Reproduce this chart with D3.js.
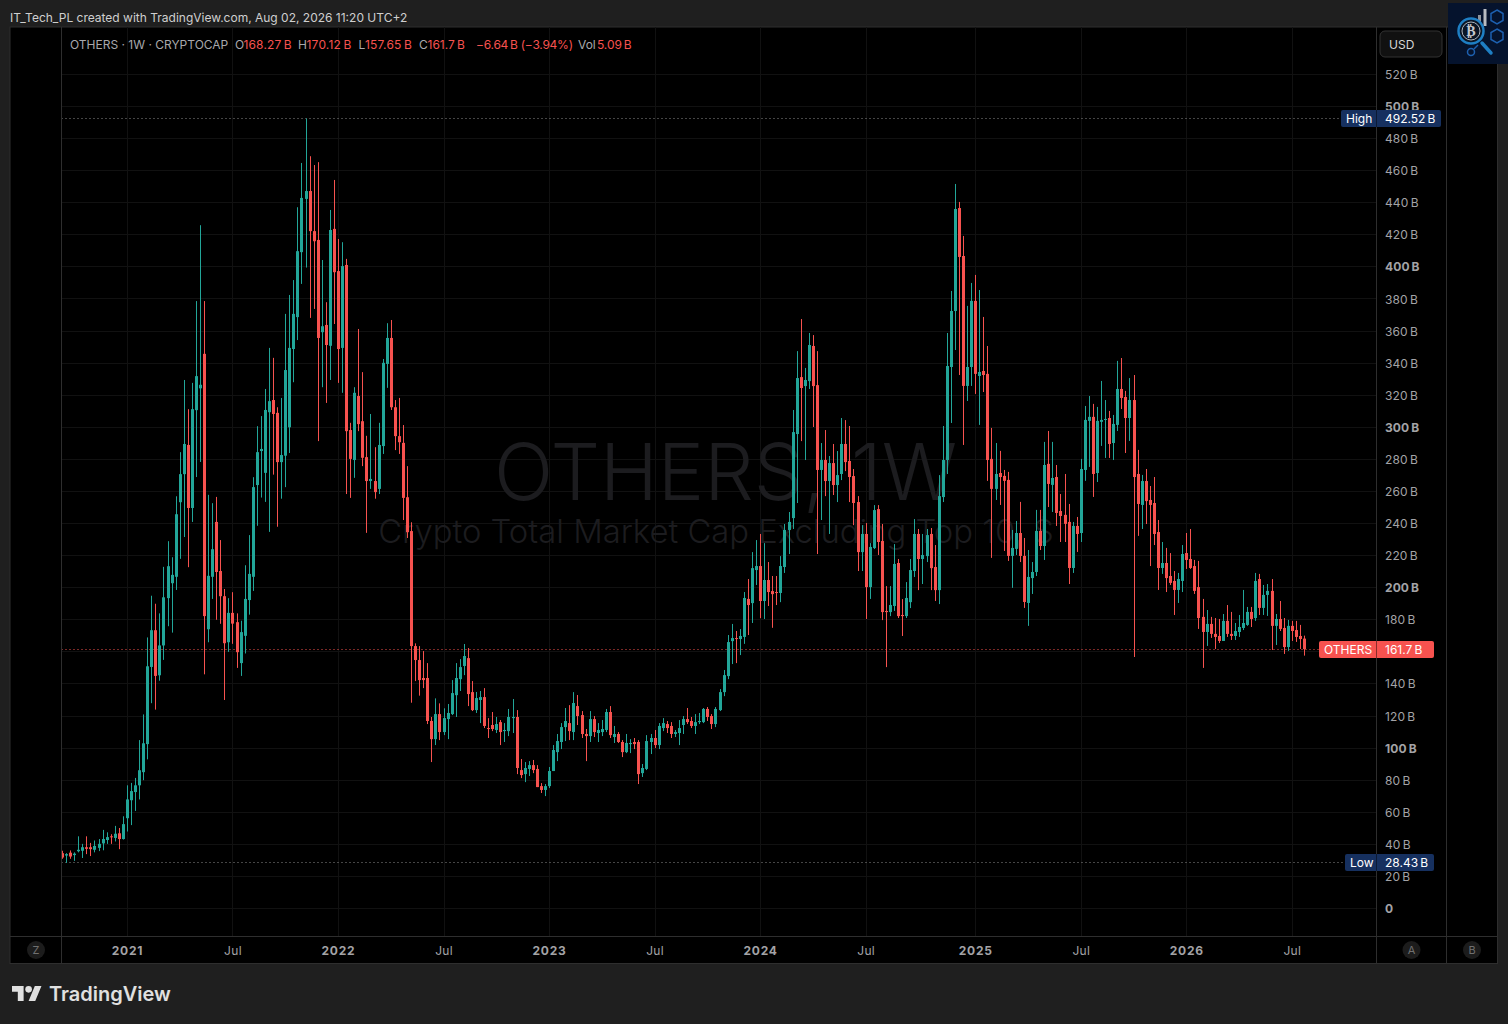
<!DOCTYPE html>
<html>
<head>
<meta charset="utf-8">
<script src="https://d3js.org/d3.v7.min.js"></script>
<style>
    html, body { margin: 0; padding: 0; background: #1f1f1f; }
    svg { display: block; }
    text { font-family: Inter, "Noto Sans", sans-serif; }
    .price-axis text { fill: #a3a3a6; font-size: 12px; letter-spacing: 0.1px; }
    .price-axis text.major { font-weight: 700; }
    .time-axis text { fill: #a3a3a6; font-size: 12px; letter-spacing: 0.3px; }
    .time-axis text.major { font-weight: 700; letter-spacing: 0.8px; }
</style>
</head>
<body>
<div id="chart"></div>
<script>
// weekly candles, values in billions, first candle is the week of 2020-09-14
const opens = [
    34.5,33,34.8,33.3,35.7,36,38.2,38.2,36.6,37.8,
    40.6,42.7,45,44,46.9,43.3,56.3,67.5,72.6,76.8,
    85,102.5,150.6,173.5,145.4,164,193.5,202.8,206.8,253.3,
    270.8,289,249.7,310.7,324.3,345.8,174.1,206.8,241,210.4,
    194.7,166,184.3,178.5,153,170,192.3,206.8,264,285.2,
    271.6,309.4,317,309,278.3,282.3,300,348.8,368.7,409.2,
    442.4,447.3,422.3,416.8,359.3,363.8,350.8,423.7,397.4,349.5,
    401.2,298.3,279.6,319.5,303.8,281.4,266.5,266.5,261.6,288.3,
    339.5,355.7,312.5,294.5,290.3,256.4,235.3,163.6,154.9,143.7,
    143.7,116.9,105.6,121.2,110,118.1,121.2,133,143,151.2,
    156.1,134.9,123.7,130,131.8,112.5,114.4,111.3,116.2,110.6,
    110.6,118.7,119.4,86.3,83.8,87,89.4,87,76.3,73.9,
    76.3,85.7,97.5,103.8,113.1,115.6,110,126.2,120.6,108.8,
    107.5,118.1,109.4,110,111.3,122.5,106.9,108.8,103.8,97.5,
    102.5,103.8,103.8,84.4,87,103.8,106.3,101.9,112.5,115,
    113.8,108.8,109.4,114.4,118.1,116.9,113.8,116.2,116.2,124.4,
    120,115,123.7,134.9,144.9,166.7,168.6,168,169.3,193,
    190.4,211,213.5,191.7,204.8,197.9,197.3,196.7,212.9,236,
    243.4,295.8,331.3,325.7,328.8,350.7,326.3,273.4,279.6,266.5,
    277.7,264,270.9,289.6,279,269.6,253.4,222.2,233.5,200.4,
    224.7,249,229.1,185.5,184.8,188.6,215.4,183,182.3,191,
    210.4,233.5,217.9,219.7,233.5,212.9,198.5,256.5,279.6,337.6,
    372.5,436.7,406.8,325.8,337.6,378.8,332,335.1,333.3,280.3,
    261.6,271.5,269.7,267.2,219.8,224.2,234.1,219.8,190.5,206,
    209.8,235.4,226,277.2,264.1,269,247.8,245.4,241,212.3,
    238.5,234.1,273.4,304,306.5,271.5,303.4,304.6,305.8,290.2,
    301.5,323.9,318.9,305.8,317,270.9,251.6,266.5,254.7,252.8,
    234.7,212.3,215.4,207.3,204.2,198.6,204.2,221.6,217.9,213.5,
    200.4,181.8,172.4,177.4,171.2,169.9,166.8,179.3,171.2,169.9,
    172.4,174.9,176.8,184.9,181.1,205.4,187.4,195.5,198,176.2,
    180.5,174.9,163,176.2,173.6,169.9,168.27
];
const highs = [
    36,34.5,36.2,35,45,40.3,45,40.9,42.4,43.3,
    49,47.5,46.3,51.5,50.2,57.5,76.8,78.3,81.4,105,
    121,169,195,190,184,213,229,219,257,284.5,
    329.5,311.3,327.7,378.7,426,378.7,257.9,252.7,256.6,229.7,
    199.2,193.5,197.2,184,179.4,214,232.8,268.9,300.7,307,
    323.9,349.5,343.3,312.5,318.3,370.7,382.5,391.8,437.2,464.8,
    492.52,469,463.5,465.3,404.3,378,435.5,454.2,417.4,415.4,
    405,302.8,325,361.3,334.4,294.7,308.3,287.6,302.8,342.6,
    364.9,366.9,317,318.3,301.4,275.8,240.8,165.3,163.6,160.5,
    153,119.4,131,127.9,124.8,127.5,142.4,153,155.5,164.9,
    162.4,141.8,135,135.6,137.4,118.7,122.5,119.4,117.5,115.6,
    124.4,130.6,123.7,93.2,91.3,91.9,92.6,89.4,78.2,77.6,
    88.2,101.9,108.8,115.6,125,126.8,134.9,133.1,123.1,111.9,
    123.1,120,115.6,117.5,124.4,126.2,113.8,110,105,108.8,
    105.6,106.3,105,90.1,108.1,108.8,111.3,115.6,118.7,116.9,
    116.2,111.3,117.5,120,125,119.4,121.2,121.9,125,125.6,
    121.2,125.6,136.8,148.7,170.5,177.4,173,174.2,197.3,205.4,
    222.2,229.7,233.5,227.8,216,207.3,207.3,219.7,239.7,247.2,
    310.8,347.5,367.5,337,358.8,357.5,347.5,290.2,298.3,282.1,
    289.6,285.2,305.8,304.5,300.8,274,257.1,239,240.3,227.8,
    251.5,251.5,239.7,201,201,227.2,217.9,192.9,203.5,217.9,
    242.8,236.6,233.5,236.6,237.2,226.6,270.2,300.8,358.8,385,
    451.7,440.5,419.3,375.7,390,395,385.6,368.8,350.7,299.6,
    290.2,285.3,273.4,272.2,236,241.6,253.5,231,223.5,216,
    248.5,248.5,290.9,297.7,290.9,276.5,258.4,270.9,252.2,241,
    244.1,280.3,313.3,319.5,314.6,312.7,328.9,317,310.2,307.7,
    341.4,343.2,322.7,330.7,332.6,285.9,270.3,274,263.4,269,
    242.2,228.5,224.8,221.6,210.4,209.2,226.6,234.1,236.6,217.3,
    216.7,193,186.1,181.8,181.1,180.5,183.6,189.2,184.9,178,
    183,198.6,188,188,209.2,208.6,201.7,202.3,205.4,183.6,
    191.7,181.1,179.9,179.3,179.3,176.8,170.12
];
const lows = [
    31,28.43,31,29.7,35,31.5,33.9,32.7,35,35.8,
    36.3,40.3,40.3,41.8,37,43,48,52,60.8,68,
    80,93,128,124,142,155,176,172,198.6,218,
    231.6,212.8,241,269,278.4,146,166,193,180,177.5,
    130,160,165,150,145,159,183.2,198,238.6,256.2,
    253.5,234.8,270.5,238,255.5,262.7,284,328.1,354.4,389.4,
    399.6,368.2,373.8,291.4,325,315.2,329.5,364.4,327.7,321.5,
    258.4,256,268.5,297.6,275.8,234.2,261.6,255.5,258.4,283.4,
    324.6,310.8,285.8,283.4,242.2,231,128.3,141.8,132.7,137.4,
    115,91.3,101.9,105,108.1,105.6,120.6,119.4,135.6,145.5,
    126.2,123.1,121.9,115.6,112.5,106.3,110.6,109.4,101.9,103.8,
    107.5,109.4,83.8,81.3,78.8,82.6,84.4,75.7,72,70.1,
    75.1,85.7,91.9,99.4,104.4,105,105,114.4,106.3,91.9,
    103.8,106.9,103.8,107.5,110,106.3,103.2,103.2,94.4,96.9,
    96.9,99.4,77.6,82,86.3,96.3,100,99.4,110.6,109.4,
    106.3,106.9,101.9,108.8,115,112.5,108.8,115,115.6,116.9,
    111.9,113.1,123.1,132.4,143,152.4,153,158,165,170.5,
    178,201.7,181,180.5,188.6,175,189.2,191,209.2,221,
    236.6,252.8,291.4,279.6,323.9,300.2,221,242.2,257.1,233.5,
    257.8,253.4,267.1,272.7,253.4,239,210.4,210.4,180.5,193,
    224.1,220.4,179.8,150.5,182.3,185.5,181.1,169.9,181.1,187.3,
    206.7,198.5,202.3,216,198.5,191.7,189.8,253.4,270.9,302.7,
    348.2,332.6,289,316.4,325.8,320.8,301.5,322,266.6,218.6,
    254.7,251.6,222.9,216.7,199.9,220.4,216,187.4,176.2,196.1,
    207.3,223.5,217.3,250.3,247.2,238.5,228.5,228.5,202.3,209.2,
    222.3,228.5,266.6,275.3,256.6,265.9,288.4,280.9,280.9,279.6,
    297.7,311.4,284,291.5,156.8,232.3,236.6,239.7,213.5,226.6,
    198.6,208.6,197.3,201.7,183,190.5,197.3,211.7,211.7,196.1,
    174.3,150,163.7,168.7,161.8,165.5,166.8,169.3,167.4,167.4,
    169.3,173.6,176.2,175.5,179.3,183,183,182.4,161.2,164.3,
    173,158.7,160.6,166.8,166.2,161.8,157.65
];
const closes = [
    31.8,33.9,32.4,34.2,36.6,38.2,37.2,37,39,40.3,
    43.3,44.5,44.5,46.6,43.3,52.6,68,73.2,76.8,86.2,
    103,151,173.5,145,164,194,213.4,208,245.8,270.8,
    289.6,249.7,311.3,331.9,326.5,182.3,207.4,224,209.8,194.7,
    165.4,184.3,177.6,159.8,172.3,193,208.6,262.7,284.5,286.5,
    310.8,316.3,308.3,278.3,282.7,335.7,349.5,370.7,409.8,443,
    447.3,422.3,416,355.7,363,351.3,423,396.7,348.8,400.5,
    297.6,280.3,321.5,302,281,266.5,267.8,259.6,289,340.2,
    355.7,312.5,294.5,290.7,256,234.6,163.6,154.9,142.4,142.4,
    116.9,105.6,121.2,110,118.7,121.9,134.3,143.7,150.5,157.4,
    133.7,123.7,131.2,131.8,113.8,111.9,111.9,115,110,111.3,
    119.4,119.4,87.6,83.2,87.6,89.4,86.3,75.7,73.9,76.3,
    85.7,98.8,104.4,113.1,116.9,110.6,128.1,120,108.8,107.5,
    118.1,110,111.3,111.9,122.5,108.1,108.8,103.8,97.5,103.2,
    103.2,102.5,83.8,87.6,104.4,106.3,101.9,113.8,115.6,112.5,
    108.8,110,112.5,118.1,116.2,113.8,116.2,116.9,124.4,119.4,
    115,124.4,134.9,145.5,166.1,168.6,168,169.9,193.6,189.2,
    212.2,213.5,191.7,204.8,197.3,196,196.7,213.5,236,241,
    297,330.7,324.5,329.5,351.3,325.7,273.4,279.6,266.5,277.7,
    264,270.2,289.6,278.3,269,252.8,222.2,233.5,200.4,225.4,
    248.4,228.5,184.8,184.8,189.2,214.8,182.3,182.3,193.6,211,
    233.5,217.9,220.4,232.8,212.2,198.5,257.1,279.6,338.2,372.5,
    436.1,406.2,325.8,337.6,378.8,333.3,334.5,332.6,279.6,261.6,
    270.9,269,266.6,219.8,224.8,234.1,219.8,191.1,206.7,209.8,
    235.4,226,276.5,264.7,268.4,246.6,244.7,239.8,212.3,238.5,
    233.5,274,304.6,306.5,270.9,304,304.6,305.2,289.6,302.1,
    323.9,318.3,305.8,317,269,252.2,266.5,254,251.6,233.5,
    212.3,215.4,206,203,198.6,205.4,221,217.3,212.3,198,
    181.1,172.4,177.4,171.2,169.3,166.8,179.3,171.2,169.9,173,
    175.5,178,184.9,180.5,204.2,187.4,195.5,198,176.2,180.5,
    174.3,163,176.2,173,169.3,168,161.7
];

const priceTicks = [0,20,40,60,80,100,120,140,160,180,200,220,240,260,280,300,320,340,360,380,400,420,440,460,480,500,520];
const hiddenPriceTicks = [160]; // covered by the last price label
const timeTickDates = ["2021-01-04","2021-07-05","2022-01-03","2022-07-04","2023-01-02","2023-07-03","2024-01-01","2024-07-01","2025-01-06","2025-07-07","2026-01-05","2026-07-06"];
const timeTickLabels = ["2021","Jul","2022","Jul","2023","Jul","2024","Jul","2025","Jul","2026","Jul"];

const highValue = 492.52;
const lowValue = 28.43;
const lastValue = 161.7;

const green = "#22a699";
const red = "#f7524f";
const gridColor = "#111111";
const lineColor = "#2e2e2e";

const width = 1508;
const height = 1024;
const frame = { left: 10, top: 27, right: 1497.5, bottom: 963.5 };
const plot = { left: 61.5, right: 1376.5, bottom: 936.5 };
const secondAxis = 1446.5;

const svg = d3.select("#chart").append("svg")
    .attr("width", width)
    .attr("height", height);

svg.append("rect").attr("width", width).attr("height", height).attr("fill", "#1f1f1f");

svg.append("text")
    .attr("x", 10).attr("y", 21.5)
    .attr("fill", "#cfcfcf")
    .style("font-size", "12px")
    .text("IT_Tech_PL created with TradingView.com, Aug 02, 2026 11:20 UTC+2");

svg.append("rect")
    .attr("x", frame.left).attr("y", frame.top)
    .attr("width", frame.right - frame.left).attr("height", frame.bottom - frame.top)
    .attr("fill", "#000").attr("stroke", lineColor);

// scales
const parseDay = d3.utcParse("%Y-%m-%d");
const weeks = d3.utcMonday.range(parseDay("2020-09-14"), parseDay("2026-08-03"));
const timeTicks = timeTickDates.map(parseDay);

const x = d3.scaleUtc()
    .domain([weeks[0], weeks[weeks.length - 1]])
    .range([62.5, 1304.5]);

const y = d3.scaleLinear()
    .domain([0, 520])
    .range([908.5, 74.42]);

// grid
svg.append("g").selectAll("line")
    .data(priceTicks)
    .enter()
    .append("line")
    .attr("x1", plot.left).attr("x2", plot.right)
    .attr("y1", d => Math.floor(y(d)) + 0.5).attr("y2", d => Math.floor(y(d)) + 0.5)
    .attr("stroke", gridColor);

svg.append("g").selectAll("line")
    .data(timeTicks)
    .enter()
    .append("line")
    .attr("x1", d => Math.floor(x(d)) + 0.5).attr("x2", d => Math.floor(x(d)) + 0.5)
    .attr("y1", frame.top).attr("y2", plot.bottom)
    .attr("stroke", gridColor);

// watermark
svg.append("text")
    .attr("x", 494).attr("y", 500)
    .attr("fill", "#1c1c1f")
    .style("font-size", "78px")
    .style("font-weight", 300)
    .style("word-spacing", "4px")
    .text("OTHERS, 1W");

svg.append("text")
    .attr("x", 716).attr("y", 543)
    .attr("text-anchor", "middle")
    .attr("fill", "#1c1c1f")
    .style("font-size", "32.8px")
    .style("font-weight", 300)
    .text("Crypto Total Market Cap Excluding Top 10, $");

// dotted level lines
const levels = [
    { value: highValue, end: 1341, color: "#8a8a8a" },
    { value: lowValue, end: 1345, color: "#8a8a8a" },
    { value: lastValue, end: 1319, color: red }
];
svg.append("g").selectAll("line")
    .data(levels)
    .enter()
    .append("line")
    .attr("x1", plot.left).attr("x2", d => d.end)
    .attr("y1", d => Math.floor(y(d.value)) + 0.5).attr("y2", d => Math.floor(y(d.value)) + 0.5)
    .attr("stroke", d => d.color)
    .attr("stroke-dasharray", "1 3");

// candles
const candle = svg.append("g").selectAll("g")
    .data(weeks)
    .enter()
    .append("g")
    .attr("fill", (d, i) => closes[i] >= opens[i] ? green : red);

candle.append("rect")
    .attr("x", d => Math.round(x(d) - 0.5))
    .attr("width", 1)
    .attr("y", (d, i) => y(highs[i]))
    .attr("height", (d, i) => y(lows[i]) - y(highs[i]));

candle.append("rect")
    .attr("x", d => Math.round(x(d) - 0.5) - 1)
    .attr("width", 3)
    .attr("y", (d, i) => y(Math.max(opens[i], closes[i])))
    .attr("height", (d, i) => Math.max(1, Math.abs(y(opens[i]) - y(closes[i]))));

// axis panels
svg.append("g").selectAll("line")
    .data([plot.left, plot.right, secondAxis])
    .enter()
    .append("line")
    .attr("x1", d => d).attr("x2", d => d)
    .attr("y1", frame.top).attr("y2", frame.bottom)
    .attr("stroke", lineColor);

svg.append("line")
    .attr("x1", frame.left).attr("x2", frame.right)
    .attr("y1", plot.bottom).attr("y2", plot.bottom)
    .attr("stroke", lineColor);

const priceAxis = svg.append("g")
    .attr("class", "price-axis")
    .attr("transform", `translate(${plot.right},0.2)`)
    .call(d3.axisRight(y)
        .tickValues(priceTicks.filter(d => !hiddenPriceTicks.includes(d)))
        .tickSize(0)
        .tickPadding(8.5)
        .tickFormat(d => d === 0 ? "0" : `${d}\u2009B`));
priceAxis.select(".domain").remove();
priceAxis.selectAll("text").classed("major", d => d % 100 === 0);

const timeAxis = svg.append("g")
    .attr("class", "time-axis")
    .attr("transform", "translate(-0.5,946)")
    .call(d3.axisBottom(x)
        .tickValues(timeTicks)
        .tickSize(0)
        .tickPadding(0)
        .tickFormat((d, i) => timeTickLabels[i]));
timeAxis.select(".domain").remove();
timeAxis.selectAll("text").classed("major", (d, i) => timeTickLabels[i] !== "Jul");

// round buttons under the axes
const buttons = [[36, "Z"], [1411.5, "A"], [1472, "B"]];
const button = svg.append("g").selectAll("g")
    .data(buttons)
    .enter()
    .append("g")
    .attr("transform", d => `translate(${d[0]},950)`);
button.append("circle").attr("r", 9).attr("fill", "#1c1c1c");
button.append("text")
    .attr("text-anchor", "middle").attr("y", 4)
    .attr("fill", "#707070")
    .style("font-size", "11px")
    .text(d => d[1]);

// price labels
const priceLabels = [
    { value: highValue, name: "High", text: "492.52\u2009B", left: 1341, right: 1441, fill: "#16305f" },
    { value: lowValue, name: "Low", text: "28.43\u2009B", left: 1345, right: 1434, fill: "#16305f" },
    { value: lastValue, name: "OTHERS", text: "161.7\u2009B", left: 1319, right: 1434, fill: red }
];
const priceLabel = svg.append("g").selectAll("g")
    .data(priceLabels)
    .enter()
    .append("g")
    .attr("transform", d => `translate(0,${Math.floor(y(d.value)) + 0.5})`);
priceLabel.append("rect")
    .attr("x", d => d.left).attr("y", -8.5)
    .attr("width", d => d.right - d.left).attr("height", 17)
    .attr("rx", 2)
    .attr("fill", d => d.fill);
priceLabel.append("line")
    .attr("x1", plot.right).attr("x2", plot.right)
    .attr("y1", -8.5).attr("y2", 8.5)
    .attr("stroke", "#000").attr("stroke-opacity", 0.45);
priceLabel.append("text")
    .attr("x", d => d.left + 5).attr("y", 4)
    .attr("fill", "#fff")
    .style("font-size", "12px")
    .text(d => d.name);
priceLabel.append("text")
    .attr("x", 1385).attr("y", 4)
    .attr("fill", "#fff")
    .style("font-size", "12px")
    .text(d => d.text);

// USD box
svg.append("rect")
    .attr("x", 1380).attr("y", 31)
    .attr("width", 62).attr("height", 26)
    .attr("rx", 5)
    .attr("fill", "#111").attr("stroke", "#333");
svg.append("text")
    .attr("x", 1389).attr("y", 49)
    .attr("fill", "#d6d6d6")
    .style("font-size", "12px")
    .text("USD");

// symbol legend
const legendParts = [
    [70, "OTHERS · 1W · CRYPTOCAP", "#a8a8ac", 0],
    [235, "O", "#a8a8ac", 0], [243.5, "168.27\u2009B", red, 0.15],
    [298, "H", "#a8a8ac", 0], [306.5, "170.12\u2009B", red, 0.2],
    [358.5, "L", "#a8a8ac", 0], [365, "157.65\u2009B", red, 0.2],
    [419, "C", "#a8a8ac", 0], [427.5, "161.7\u2009B", red, 0],
    [476, "\u22126.64\u2009B (\u22123.94%)", red, -0.25],
    [578, "Vol", "#a8a8ac", 0], [597, "5.09\u2009B", red, -0.1]
];
svg.append("g").selectAll("text")
    .data(legendParts)
    .enter()
    .append("text")
    .attr("x", d => d[0]).attr("y", 49)
    .attr("fill", d => d[2])
    .style("font-size", "12px")
    .style("letter-spacing", d => `${d[3]}px`)
    .text(d => d[1]);

// channel logo, top right
const logo = svg.append("g");
logo.append("rect").attr("x", 1448).attr("y", 3).attr("width", 60).attr("height", 61).attr("fill", "#05132d");
logo.append("rect").attr("x", 1478).attr("y", 15).attr("width", 3).attr("height", 8).attr("fill", "#8f949c");
logo.append("rect").attr("x", 1483.5).attr("y", 9).attr("width", 3).attr("height", 17).attr("fill", "#b8bcc2");
logo.append("circle").attr("cx", 1471).attr("cy", 31).attr("r", 12.5).attr("fill", "#0a1626").attr("stroke", "#1e7fc4").attr("stroke-width", 2.5);
logo.append("circle").attr("cx", 1471).attr("cy", 31).attr("r", 9).attr("fill", "none").attr("stroke", "#aeb4bb").attr("stroke-width", 1);
logo.append("text").attr("x", 1471).attr("y", 36).attr("text-anchor", "middle").attr("fill", "#c4c8ce")
    .style("font-size", "14px").style("font-weight", 700).style("font-family", "DejaVu Sans").text("₿");
logo.append("line").attr("x1", 1482).attr("y1", 43).attr("x2", 1491).attr("y2", 53)
    .attr("stroke", "#1e7fc4").attr("stroke-width", 3.5).attr("stroke-linecap", "round");
logo.append("circle").attr("cx", 1471).attr("cy", 52).attr("r", 3.5).attr("fill", "none").attr("stroke", "#1d60b0").attr("stroke-width", 1.5);
logo.append("line").attr("x1", 1474).attr("y1", 49).attr("x2", 1478).attr("y2", 45).attr("stroke", "#1d60b0").attr("stroke-width", 1.5);
const hexPath = "M0 -7l6 3.5v7l-6 3.5l-6 -3.5v-7z";
logo.append("path").attr("d", hexPath).attr("transform", "translate(1497,17)").attr("fill", "none").attr("stroke", "#1d60b0").attr("stroke-width", 1.5);
logo.append("path").attr("d", hexPath).attr("transform", "translate(1497,36)").attr("fill", "none").attr("stroke", "#1d60b0").attr("stroke-width", 1.5);

// TradingView wordmark
const brand = svg.append("g").attr("transform", "translate(12,982.7) scale(0.83)");
brand.append("path").attr("d", "M14 22H7V11H0V4h14v18zM28 22h-8l7.5-18h8L28 22z").attr("fill", "#e0e0e0");
brand.append("circle").attr("cx", 20).attr("cy", 8).attr("r", 4).attr("fill", "#e0e0e0");
svg.append("text")
    .attr("x", 49).attr("y", 1001)
    .attr("fill", "#e0e0e0")
    .style("font-size", "20px")
    .style("font-weight", 600)
    .text("TradingView");
</script>
</body>
</html>
